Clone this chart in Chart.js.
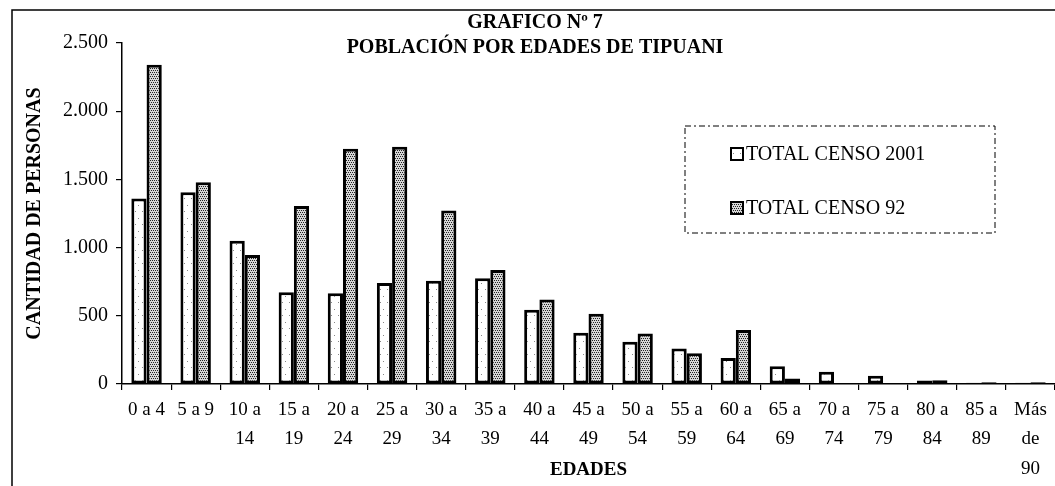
<!DOCTYPE html>
<html>
<head>
<meta charset="utf-8">
<script src="https://cdn.jsdelivr.net/npm/chart.js@4"></script>
<style>
    html, body { margin: 0; padding: 0; background: #fff; overflow: hidden; }
    #wrap { width: 1055px; height: 486px; position: relative; }
</style>
</head>
<body>
<div id="wrap"><canvas id="popChart" width="1055" height="486"></canvas></div>
<script>
// ----------------------------------------------------
// DATA
// ----------------------------------------------------
const titleLines = ['GRAFICO Nº 7', 'POBLACIÓN POR EDADES DE TIPUANI'];
const ageGroups = [
    '0 a 4', '5 a 9', ['10 a', '14'], ['15 a', '19'], ['20 a', '24'], ['25 a', '29'],
    ['30 a', '34'], ['35 a', '39'], ['40 a', '44'], ['45 a', '49'], ['50 a', '54'],
    ['55 a', '59'], ['60 a', '64'], ['65 a', '69'], ['70 a', '74'], ['75 a', '79'],
    ['80 a', '84'], ['85 a', '89'], ['Más', 'de', '90']
];
const seriesNames = ['TOTAL CENSO 2001', 'TOTAL CENSO 92'];
const censo2001 = [1360, 1405, 1050, 672, 665, 740, 757, 775, 545, 375, 310, 260, 190, 130, 90, 60, 25, 10, 10];
const censo92 = [2340, 1480, 945, 1305, 1725, 1740, 1272, 835, 620, 515, 370, 225, 395, 40, 8, 6, 28, 12, 12];
const yTicks = [0, 500, 1000, 1500, 2000, 2500];

const serif = "'Liberation Serif', 'Times New Roman', serif";

// ----------------------------------------------------
// FILL PATTERNS (scanned look)
// ----------------------------------------------------
function makePattern(kind) {
    const c = document.createElement('canvas');
    const g = c.getContext('2d');
    if (kind === 'dense') {
        c.width = 4; c.height = 4;
        g.fillStyle = '#d6d6d6';
        g.fillRect(0, 0, 4, 4);
        g.fillStyle = '#222';
        [[0, 0], [2, 0], [1, 2], [3, 2]].forEach(([x, y]) => g.fillRect(x, y, 1, 1));
    } else {
        c.width = 7; c.height = 13;
        g.fillStyle = '#fff';
        g.fillRect(0, 0, 7, 13);
        g.fillStyle = '#888';
        g.fillRect(2, 3, 1, 1);
        g.fillRect(5, 10, 1, 1);
    }
    return g.createPattern(c, 'repeat');
}
const fill2001 = makePattern('sparse');
const fill92 = makePattern('dense');

// ----------------------------------------------------
// PLUGINS: frame, title, legend box
// ----------------------------------------------------
const decorPlugin = {
    id: 'decor',
    beforeDraw(chart) {
        const ctx = chart.ctx;
        ctx.save();
        ctx.fillStyle = '#fff';
        ctx.fillRect(0, 0, chart.width, chart.height);
        ctx.strokeStyle = '#000';
        ctx.lineWidth = 1.5;
        ctx.beginPath();
        ctx.moveTo(12, chart.height);
        ctx.lineTo(12, 10);
        ctx.lineTo(chart.width, 10);
        ctx.stroke();
        ctx.restore();
    },
    afterDraw(chart) {
        const ctx = chart.ctx;
        ctx.save();
        ctx.fillStyle = '#000';
        ctx.textAlign = 'center';
        ctx.textBaseline = 'middle';
        ctx.font = `bold 20px ${serif}`;
        ctx.fillText(titleLines[0], 535, 23);
        ctx.fillText(titleLines[1], 535, 48);

        // legend box
        const bx = 685, by = 126, bw = 310, bh = 107;
        ctx.lineWidth = 1;
        ctx.setLineDash([6, 3, 2, 3]);
        ctx.strokeRect(bx, by, bw, bh);
        ctx.setLineDash([]);
        ctx.textAlign = 'left';
        ctx.font = `20px ${serif}`;
        chart.data.datasets.forEach((ds, i) => {
            const y = 154 + i * 54;
            ctx.fillStyle = ds.backgroundColor;
            ctx.fillRect(731, y - 6, 12, 12);
            ctx.lineWidth = 2;
            ctx.strokeStyle = '#000';
            ctx.strokeRect(731, y - 6, 12, 12);
            ctx.fillStyle = '#000';
            ctx.fillText(ds.label, 746, y + 1);
        });
        ctx.restore();
    }
};

// ----------------------------------------------------
// CHART
// ----------------------------------------------------
Chart.defaults.font.family = serif;
Chart.defaults.color = '#000';

const ctx = document.getElementById('popChart').getContext('2d');
new Chart(ctx, {
    type: 'bar',
    data: {
        labels: ageGroups,
        datasets: [
            {
                label: seriesNames[0],
                data: censo2001,
                backgroundColor: fill2001,
                borderColor: '#000',
                borderWidth: 3,
                borderSkipped: false
            },
            {
                label: seriesNames[1],
                data: censo92,
                backgroundColor: fill92,
                borderColor: '#000',
                borderWidth: 3,
                borderSkipped: false
            }
        ]
    },
    options: {
        responsive: false,
        animation: false,
        layout: { padding: { top: 43, left: 12, right: 0, bottom: 0 } },
        datasets: { bar: { categoryPercentage: 0.62, barPercentage: 1.0 } },
        plugins: {
            legend: { display: false },
            title: { display: false },
            tooltip: { enabled: false }
        },
        scales: {
            x: {
                offset: true,
                grid: { display: true, drawOnChartArea: false, offset: true, tickLength: 6, color: '#000', lineWidth: 1.2 },
                border: { color: '#000', width: 1.5 },
                ticks: { font: { size: 19, lineHeight: 1.55 }, padding: 5, maxRotation: 0, autoSkip: false },
                title: { display: true, text: 'EDADES', font: { size: 19, weight: 'bold' }, padding: { top: 0, bottom: 5 } },
                afterFit: (scale) => { scale.height = 102; }
            },
            y: {
                min: 0,
                max: 2500,
                afterBuildTicks: (scale) => { scale.ticks = yTicks.map(v => ({ value: v })); },
                grid: { display: true, drawOnChartArea: false, tickLength: 6, color: '#000', lineWidth: 1.2 },
                border: { color: '#000', width: 1.5 },
                ticks: {
                    font: { size: 20 },
                    padding: 8,
                    callback: (v) => String(v).replace(/\B(?=(\d{3})+(?!\d))/g, '.')
                },
                title: { display: true, text: 'CANTIDAD DE PERSONAS', font: { size: 20, weight: 'bold' }, padding: { top: 11, bottom: 0 } },
                afterFit: (scale) => { scale.width = 110; }
            }
        }
    },
    plugins: [decorPlugin]
});
</script>
</body>
</html>
